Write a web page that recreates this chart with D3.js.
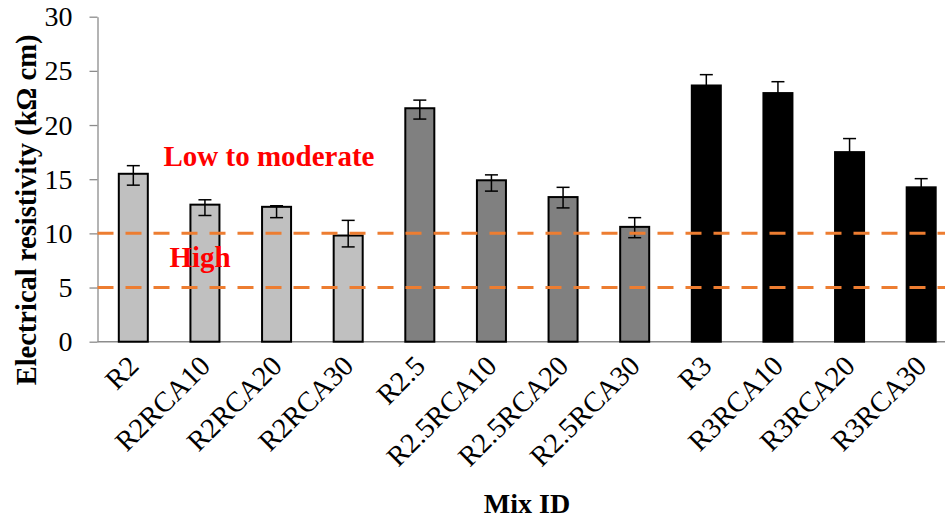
<!DOCTYPE html>
<html>
<head>
<meta charset="utf-8">
<script src="https://cdn.jsdelivr.net/npm/d3@7"></script>
<style>
  body { margin: 0; background: #fff; }
  svg { display: block; }
  text { font-family: "Liberation Serif", "Times New Roman", Times, serif; }
</style>
</head>
<body>
<svg id="chart" width="945" height="519"></svg>
<script>
// mix IDs and measured resistivity (kOhm cm)
const categories = ["R2", "R2RCA10", "R2RCA20", "R2RCA30", "R2.5", "R2.5RCA10", "R2.5RCA20", "R2.5RCA30", "R3", "R3RCA10", "R3RCA20", "R3RCA30"];
const groups = ["R2", "R2", "R2", "R2", "R2.5", "R2.5", "R2.5", "R2.5", "R3", "R3", "R3", "R3"];
const resistivity = [15.5, 12.65, 12.45, 9.8, 21.55, 14.9, 13.35, 10.6, 23.65, 22.95, 17.5, 14.25];
const errUp = [0.75, 0.45, 0.1, 1.4, 0.75, 0.5, 0.9, 0.85, 1.0, 1.05, 1.25, 0.8];
const errDown = [1.05, 1.0, 1.0, 1.05, 1.0, 1.0, 1.0, 1.0, 1.0, 1.0, 1.0, 1.0];
const yTicks = [0, 5, 10, 15, 20, 25, 30];
// limits between resistivity classes
const thresholds = [10, 5];
const classLabels = ["Low to moderate", "High"];
const classLabelValues = [16.2, 6.9];

const serif = "'Liberation Serif', 'Times New Roman', Times, serif";
const fill = { "R2": "#c0c0c0", "R2.5": "#808080", "R3": "#000000" };

const svg = d3.select("#chart");
const W = 945;

const x = d3.scaleBand()
    .domain(categories)
    .range([97.5, 957])
    .paddingInner(0.595)
    .paddingOuter(0.2975);

const y = d3.scaleLinear()
    .domain([0, 30])
    .range([341.7, 16.7]);

const data = categories.map((c, i) => ({
    name: c,
    group: groups[i],
    value: resistivity[i],
    up: errUp[i],
    down: errDown[i]
}));

// y axis
const yAxis = svg.append("g")
    .attr("transform", "translate(97.5,0)")
    .call(d3.axisLeft(y).tickValues(yTicks).tickSize(8).tickSizeOuter(0).tickPadding(17));
yAxis.attr("font-family", serif);
yAxis.select(".domain").attr("stroke", "#8c8c8c").attr("stroke-width", 1.3);
yAxis.selectAll(".tick line").attr("stroke", "#8c8c8c").attr("stroke-width", 1.3);
yAxis.selectAll(".tick text")
    .attr("fill", "#000")
    .attr("font-family", serif)
    .attr("font-size", 28);

// x axis baseline
svg.append("line")
    .attr("x1", 97.5).attr("x2", W)
    .attr("y1", y(0)).attr("y2", y(0))
    .attr("stroke", "#8c8c8c")
    .attr("stroke-width", 1.5);

// bars
svg.selectAll(".bar")
    .data(data)
    .enter()
    .append("rect")
    .attr("class", "bar")
    .attr("x", d => x(d.name))
    .attr("y", d => y(d.value))
    .attr("width", x.bandwidth())
    .attr("height", d => y(0) - y(d.value))
    .attr("fill", d => fill[d.group])
    .attr("stroke", "#000")
    .attr("stroke-width", 2);

// error bars
const err = svg.selectAll(".err")
    .data(data)
    .enter()
    .append("g")
    .attr("class", "err")
    .attr("stroke", "#000")
    .attr("stroke-width", 1.5);

err.append("line")
    .attr("x1", d => x(d.name) + x.bandwidth() / 2)
    .attr("x2", d => x(d.name) + x.bandwidth() / 2)
    .attr("y1", d => y(d.value + d.up))
    .attr("y2", d => y(d.value - d.down));
err.append("line")
    .attr("x1", d => x(d.name) + x.bandwidth() / 2 - 6.5)
    .attr("x2", d => x(d.name) + x.bandwidth() / 2 + 6.5)
    .attr("y1", d => y(d.value + d.up))
    .attr("y2", d => y(d.value + d.up));
err.append("line")
    .attr("x1", d => x(d.name) + x.bandwidth() / 2 - 6.5)
    .attr("x2", d => x(d.name) + x.bandwidth() / 2 + 6.5)
    .attr("y1", d => y(d.value - d.down))
    .attr("y2", d => y(d.value - d.down));

// threshold lines
svg.selectAll(".thr")
    .data(thresholds)
    .enter()
    .append("line")
    .attr("x1", 97.5).attr("x2", W)
    .attr("y1", d => y(d)).attr("y2", d => y(d))
    .attr("stroke", "#ed7d31")
    .attr("stroke-width", 3)
    .attr("stroke-dasharray", "16,12");

// class labels
const labelX = [269, 200];
svg.selectAll(".cls")
    .data(classLabels)
    .enter()
    .append("text")
    .attr("x", (d, i) => labelX[i])
    .attr("y", (d, i) => y(classLabelValues[i]))
    .attr("text-anchor", "middle")
    .attr("fill", "#ff0000")
    .attr("font-family", serif)
    .attr("font-weight", "bold")
    .attr("font-size", 29)
    .text(d => d);

// rotated category labels
svg.selectAll(".xlab")
    .data(categories)
    .enter()
    .append("text")
    .attr("transform", d => `translate(${x(d) + x.bandwidth() / 2 + 7},${y(0) + 26}) rotate(-45)`)
    .attr("text-anchor", "end")
    .attr("font-family", serif)
    .attr("font-size", 28.5)
    .text(d => d);

// axis titles
svg.append("text")
    .attr("transform", "translate(36,210) rotate(-90)")
    .attr("text-anchor", "middle")
    .attr("font-family", serif)
    .attr("font-weight", "bold")
    .attr("font-size", 28.5)
    .text("Electrical resistivity (kΩ cm)");

svg.append("text")
    .attr("x", 527)
    .attr("y", 513)
    .attr("text-anchor", "middle")
    .attr("font-family", serif)
    .attr("font-weight", "bold")
    .attr("font-size", 28)
    .text("Mix ID");
</script>
</body>
</html>
